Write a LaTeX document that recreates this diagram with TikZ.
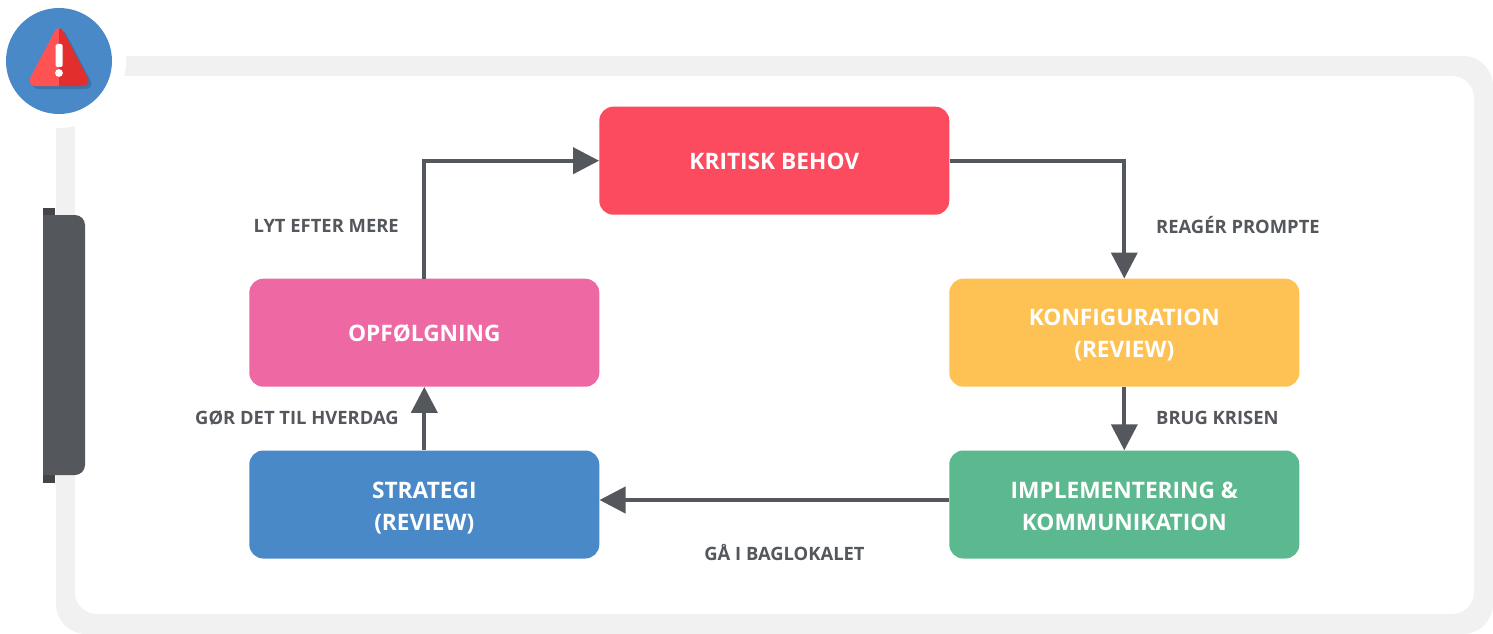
\documentclass[tikz,border=0pt]{standalone}
\usepackage{fontspec}
\setmainfont{Open Sans}
\usetikzlibrary{arrows.meta}
\definecolor{cred}{HTML}{FC4A5F}
\definecolor{cpink}{HTML}{EE68A4}
\definecolor{cyellow}{HTML}{FDC253}
\definecolor{cgreen}{HTML}{5CB98F}
\definecolor{cblue}{HTML}{4A89C8}
\definecolor{cdark}{HTML}{54575B}
\definecolor{cdarker}{HTML}{434549}
\definecolor{cframe}{HTML}{F1F1F1}
\definecolor{warnl}{HTML}{FF5252}
\definecolor{warnr}{HTML}{E32E2E}
\definecolor{warns}{HTML}{3F74AA}
\newcommand{\dropline}[2]{\raisebox{-#1pt}[0pt][0pt]{#2}}
\tikzset{
  stepbox/.style={rectangle,rounded corners=14pt,minimum width=350pt,minimum height=108pt,inner sep=0pt,align=center,text=white,font=\fontsize{22.7}{32}\selectfont\bfseries},
  conn/.style={draw=cdark,line width=4pt,-{Triangle[length=26pt,width=26pt]}},
  lab/.style={inner sep=0pt,text=cdark,font=\fontsize{18.4}{22}\selectfont\bfseries}
}
\begin{document}
\begin{tikzpicture}[x=1pt,y=-1pt]
\useasboundingbox (0,0) rectangle (1493,634);
% frame
\fill[cframe,rounded corners=30pt] (56,56) rectangle (1493,634);
\fill[white,rounded corners=22pt] (75,76) rectangle (1474,614);
\fill[white] (59,61) circle (67pt);
% side tab
\fill[cdarker] (43,208) rectangle (55,483);
\fill[cdark,rounded corners=10pt] (30,215) rectangle (85,475);
\fill[white] (30,205) rectangle (43,485);
% warning badge
\fill[cblue] (59,61) circle (53pt);
\fill[warns,rounded corners=10pt] (62,26) -- (95,89) -- (29,89) -- cycle;
\begin{scope}
\clip (0,0) rectangle (59,120);
\fill[warnl,rounded corners=10pt] (59,23) -- (92,86) -- (26,86) -- cycle;
\end{scope}
\begin{scope}
\clip (59,0) rectangle (120,120);
\fill[warnr,rounded corners=10pt] (59,23) -- (92,86) -- (26,86) -- cycle;
\end{scope}
\fill[white,rounded corners=1.5pt] (55.5,44) rectangle (62.5,67);
\fill[white] (59,73) circle (3.9pt);
% boxes
\node[stepbox,fill=cred] (kb) at (774.3,160.7) {\dropline{8.4}{KRITISK BEHOV}};
\node[stepbox,fill=cyellow] (konf) at (1124.3,332.7) {\dropline{9.2}{KONFIGURATION}\\\dropline{9.2}{(REVIEW)}};
\node[stepbox,fill=cgreen] (impl) at (1124.3,504.5) {\dropline{9.5}{IMPLEMENTERING \&}\\\dropline{9.5}{KOMMUNIKATION}};
\node[stepbox,fill=cblue] (strat) at (424.3,504.5) {\dropline{9.8}{STRATEGI}\\\dropline{9.8}{(REVIEW)}};
\node[stepbox,fill=cpink] (opf) at (424.3,332.7) {\dropline{8.4}{OPFØLGNING}};
% connectors
\draw[conn] (kb.east) -| (konf.north);
\draw[conn] (konf.south) -- (impl.north);
\draw[conn] ([yshift=4.5pt]impl.west) -- ([yshift=4.5pt]strat.east);
\draw[conn] (strat.north) -- (opf.south);
\draw[conn] (opf.north) |- (kb.west);
% labels
\node[lab,anchor=west] (l1) at (1156,225.5) {REAGÉR PROMPTE};
\node[lab,anchor=west] (l2) at (1156,418) {BRUG KRISEN};
\node[lab] (l3) at (784.5,552.5) {GÅ I BAGLOKALET};
\node[lab,anchor=east] (l4) at (399,418) {GØR DET TIL HVERDAG};
\node[lab,anchor=east] (l5) at (399,226) {LYT EFTER MERE};
\end{tikzpicture}
\end{document}
